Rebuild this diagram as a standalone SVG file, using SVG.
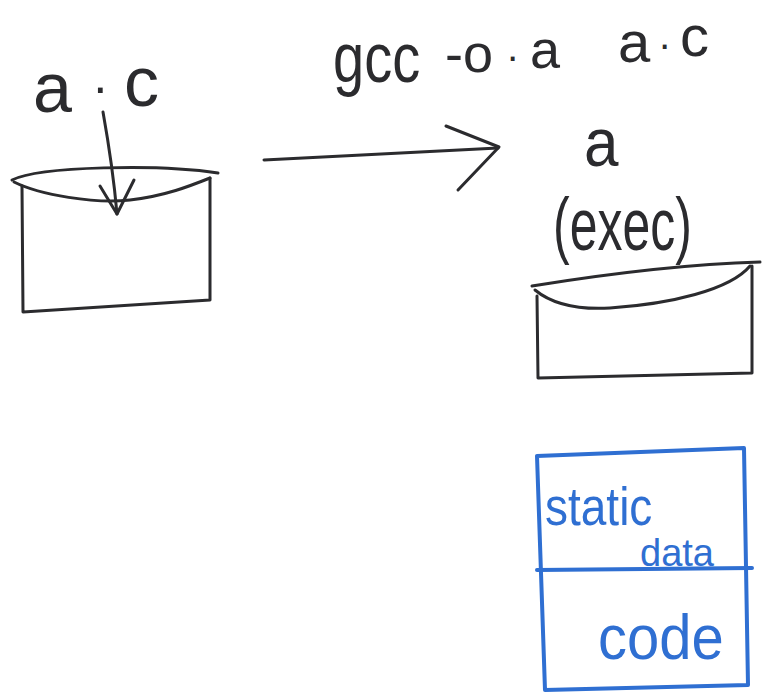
<svg xmlns="http://www.w3.org/2000/svg" width="769" height="698" viewBox="0 0 769 698">
  <style>
    .ink { fill: none; stroke: #2b2b2e; stroke-width: 3; stroke-linecap: round; stroke-linejoin: round; }
    .blue { fill: none; stroke: #2f6fd2; stroke-width: 4; stroke-linecap: round; stroke-linejoin: round; }
    .hand { font-family: "Liberation Sans", "DejaVu Sans", sans-serif; fill: #2b2b2e; }
    .bluetext { font-family: "Liberation Sans", "DejaVu Sans", sans-serif; fill: #2f6fd2; }
  </style>
  <rect width="769" height="698" fill="#ffffff"/>

  <!-- source file: a.c dropped into a bin -->
  <g id="source">
    <text class="hand" font-size="70"><tspan x="33" y="112">a</tspan><tspan x="92" y="104" font-size="50">·</tspan><tspan x="124" y="106">c</tspan></text>
    <path class="ink" d="M12,180 C40,166 160,164 218,173"/>
    <path class="ink" d="M14,182 C40,195 95,204 130,200 C165,196 190,186 210,178"/>
    <path class="ink" d="M22,186 L23,312 L210,300 L210,178"/>
    <path class="ink" d="M103,112 C108,140 114,180 117,214"/>
    <path class="ink" d="M100,186 L117,214 L134,180"/>
  </g>

  <!-- compile step -->
  <g id="connectors">
    <path class="ink" d="M264,160 C340,156 430,152 498,148"/>
    <path class="ink" d="M446,126 L499,147 L458,190"/>
  </g>

  <g id="command">
    <text class="hand" transform="translate(333,82) scale(1,1.25)" font-size="56">gcc</text>
    <text class="hand" font-size="54"><tspan x="445" y="72">-o</tspan><tspan x="506" y="70" font-size="40">·</tspan><tspan x="530" y="68">a</tspan></text>
    <text class="hand" font-size="58"><tspan x="618" y="62">a</tspan><tspan x="658" y="58" font-size="40">·</tspan><tspan x="680" y="56">c</tspan></text>
  </g>

  <!-- executable output -->
  <g id="executable">
    <text class="hand" transform="translate(584,166) scale(1,1.1)" font-size="62">a</text>
    <text class="hand" transform="translate(553,250) scale(1,1.5)" font-size="50">(exec)</text>
    <path class="ink" d="M532,286 C600,275 690,264 760,262"/>
    <path class="ink" d="M535,290 C552,304 575,310 610,308 C670,304 730,290 750,266"/>
    <path class="ink" d="M537,296 L538,378 L752,373 L752,266"/>
  </g>

  <!-- memory layout of the executable -->
  <g id="layout">
    <path class="blue" d="M537,456 L744,448 L748,685 L545,690 Z"/>
    <path class="blue" d="M537,570 L752,568"/>
    <text class="bluetext" transform="translate(545,525) scale(1,1.15)" font-size="46">static</text>
    <text class="bluetext" x="640" y="566" font-size="38">data</text>
    <text class="bluetext" transform="translate(598,659) scale(1,1.1)" font-size="58">code</text>
  </g>
</svg>
